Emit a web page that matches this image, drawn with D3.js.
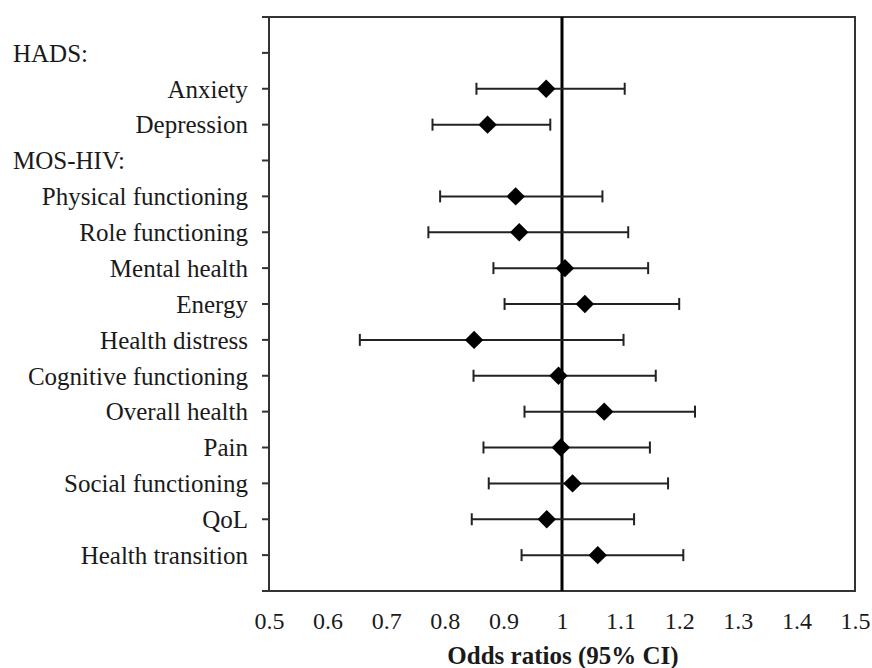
<!DOCTYPE html>
<html>
<head>
<meta charset="utf-8">
<script src="https://cdn.jsdelivr.net/npm/d3@7"></script>
<style>
  body { margin: 0; background: #fff; }
  svg text { font-family: "Liberation Serif", "Times New Roman", serif; fill: #1a1a1a; }
</style>
</head>
<body>
<svg id="chart" width="872" height="668"></svg>
<script>
// rows top to bottom; headers have no estimate
const labels = ["HADS:", "Anxiety", "Depression", "MOS-HIV:", "Physical functioning", "Role functioning",
  "Mental health", "Energy", "Health distress", "Cognitive functioning", "Overall health", "Pain",
  "Social functioning", "QoL", "Health transition"];
const headers = ["HADS:", "MOS-HIV:"];
const oddsRatio = [null, 0.973, 0.873, null, 0.921, 0.927, 1.005, 1.039, 0.850, 0.994, 1.072, 0.998, 1.018, 0.974, 1.061];
const ciLow    = [null, 0.854, 0.779, null, 0.792, 0.772, 0.883, 0.902, 0.655, 0.849, 0.936, 0.866, 0.875, 0.846, 0.931];
const ciHigh   = [null, 1.107, 0.980, null, 1.069, 1.113, 1.147, 1.200, 1.105, 1.160, 1.227, 1.150, 1.181, 1.123, 1.207];
const xTicks = [0.5, 0.6, 0.7, 0.8, 0.9, 1, 1.1, 1.2, 1.3, 1.4, 1.5];

const plotLeft = 269, plotRight = 855, plotTop = 17, plotBottom = 591;

const svg = d3.select("#chart");

const x = d3.scaleLinear().domain([0.5, 1.5]).range([plotLeft, plotRight]);
const y = d3.scalePoint().domain(labels).range([plotTop, plotBottom]).padding(1);
const step = y.step();

const rows = labels.map((l, i) => ({ label: l, or: oddsRatio[i], lo: ciLow[i], hi: ciHigh[i] }));

// frame
svg.append("rect")
  .attr("x", plotLeft).attr("y", plotTop)
  .attr("width", plotRight - plotLeft).attr("height", plotBottom - plotTop)
  .attr("fill", "none").attr("stroke", "#333").attr("stroke-width", 2);

// left tick marks at every row plus the frame edges
const tickYs = d3.range(labels.length + 2).map(k => plotTop + k * step);
svg.append("g").selectAll("line")
  .data(tickYs)
  .join("line")
  .attr("x1", plotLeft - 7).attr("x2", plotLeft)
  .attr("y1", d => d).attr("y2", d => d)
  .attr("stroke", "#333").attr("stroke-width", 2);

// row labels
svg.append("g").selectAll("text")
  .data(labels)
  .join("text")
  .attr("x", d => headers.includes(d) ? 13 : 248)
  .attr("y", d => y(d))
  .attr("dy", "0.35em")
  .attr("text-anchor", d => headers.includes(d) ? "start" : "end")
  .style("font-size", "25px")
  .text(d => d);

// x axis labels
const xAxis = svg.append("g")
  .attr("transform", "translate(0," + plotBottom + ")")
  .call(d3.axisBottom(x).tickValues(xTicks).tickSize(0).tickPadding(21).tickFormat(d3.format("")));
xAxis.select(".domain").remove();
xAxis.selectAll("text").style("font-size", "24px").attr("font-family", null);

svg.append("text")
  .attr("x", 563).attr("y", 664)
  .attr("text-anchor", "middle")
  .style("font-size", "25px").style("font-weight", "bold")
  .text("Odds ratios (95% CI)");

// reference line at 1
svg.append("line")
  .attr("x1", x(1)).attr("x2", x(1))
  .attr("y1", plotTop).attr("y2", plotBottom)
  .attr("stroke", "#000").attr("stroke-width", 3);

const est = rows.filter(d => d.or !== null);

// CI whiskers
const ci = svg.append("g").attr("stroke", "#222").attr("stroke-width", 2);
ci.selectAll(".ci")
  .data(est)
  .join("line").attr("class", "ci")
  .attr("x1", d => x(d.lo)).attr("x2", d => x(d.hi))
  .attr("y1", d => y(d.label)).attr("y2", d => y(d.label));
ci.selectAll(".capLo")
  .data(est)
  .join("line").attr("class", "capLo")
  .attr("x1", d => x(d.lo)).attr("x2", d => x(d.lo))
  .attr("y1", d => y(d.label) - 6).attr("y2", d => y(d.label) + 6);
ci.selectAll(".capHi")
  .data(est)
  .join("line").attr("class", "capHi")
  .attr("x1", d => x(d.hi)).attr("x2", d => x(d.hi))
  .attr("y1", d => y(d.label) - 6).attr("y2", d => y(d.label) + 6);

// diamonds
const diamond = d3.symbol().type(d3.symbolSquare).size(170);
svg.append("g").selectAll("path")
  .data(est)
  .join("path")
  .attr("d", diamond)
  .attr("transform", d => "translate(" + x(d.or) + "," + y(d.label) + ") rotate(45)")
  .attr("fill", "#000");
</script>
</body>
</html>
